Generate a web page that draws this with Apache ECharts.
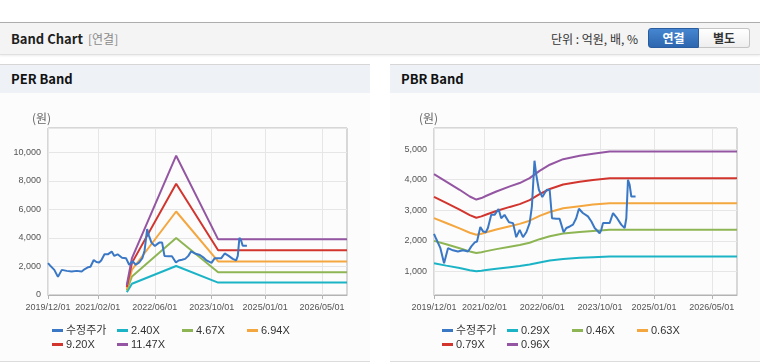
<!DOCTYPE html>
<html><head><meta charset="utf-8">
<script src="https://cdn.jsdelivr.net/npm/echarts@6/dist/echarts.min.js"></script>
<style>
html,body{margin:0;padding:0;background:#fff;}
body{width:760px;height:364px;position:relative;overflow:hidden;font-family:"Noto Sans CJK KR","Noto Sans",sans-serif;}
.topbar{position:absolute;left:0;top:22px;width:760px;height:31px;background:#f4f4f4;border-top:1px solid #adadad;border-bottom:1px solid #e0e0e0;box-shadow:0 1px 2px rgba(0,0,0,0.08);}
.title{position:absolute;left:11px;top:0;line-height:31px;font-size:13px;font-weight:bold;color:#1e1e1e;}
.sub{position:absolute;left:88px;top:0;line-height:31px;font-size:12px;color:#8a8a8a;}
.unit{position:absolute;left:551px;top:0;line-height:31px;font-size:12px;color:#333;}
.btn{position:absolute;top:5px;height:20px;width:51px;line-height:18px;text-align:center;font-size:12px;font-weight:bold;box-sizing:border-box;}
.b1{left:648px;background:linear-gradient(#4686d0,#2c66af);color:#fff;border:1px solid #2a5d9f;border-radius:3px 0 0 3px;}
.b2{left:699px;background:linear-gradient(#fff,#eee);color:#333;border:1px solid #c4c4c4;border-left:none;border-radius:0 3px 3px 0;}
.panel{position:absolute;top:64px;width:370px;height:297px;background:#fcfcfc;border-bottom:1px solid #dcdcdc;}
.phead{height:28px;background:#eef2f7;border-top:1px solid #d6d6d6;line-height:28px;padding-left:11px;font-size:13px;font-weight:bold;color:#111;}
.chart{position:absolute;top:93px;width:370px;height:268px;}
</style></head>
<body>
<div class="topbar">
  <div class="title">Band Chart</div>
  <div class="sub">[연결]</div>
  <div class="unit">단위 : 억원, 배, %</div>
  <div class="btn b1">연결</div>
  <div class="btn b2">별도</div>
</div>
<div class="panel" style="left:0"><div class="phead">PER Band</div></div>
<div class="panel" style="left:390px"><div class="phead">PBR Band</div></div>
<div id="per" class="chart" style="left:0"></div>
<div id="pbr" class="chart" style="left:390px"></div>
<script>
const tickLabels = ['2019/12/01','2021/02/01','2022/06/01','2023/10/01','2025/01/01','2026/05/01'];

const priceDates = ['2019-12-01','2019-12-20','2020-01-24','2020-02-24','2020-03-28','2020-05-09','2020-06-20','2020-08-02','2020-09-14','2020-10-11','2020-11-09','2020-11-28','2020-12-26','2021-01-18','2021-02-10','2021-02-28','2021-03-28','2021-04-25','2021-05-29','2021-06-20','2021-07-18','2021-08-25','2021-09-28','2021-10-25','2021-11-23','2021-12-21','2022-01-19','2022-02-15','2022-03-06','2022-03-28','2022-04-12','2022-05-04','2022-06-02','2022-06-21','2022-07-10','2022-08-03','2022-08-23','2022-09-28','2022-10-26','2022-11-29','2022-12-22','2023-01-20','2023-02-16','2023-03-15','2023-04-07','2023-05-10','2023-06-22','2023-07-20','2023-08-18','2023-09-29','2023-10-13','2023-10-27','2023-12-22','2024-01-20','2024-02-23','2024-03-29','2024-04-27','2024-05-11','2024-05-25','2024-06-08','2024-06-22','2024-07-28'];
const prices = [2230,2060,1760,1270,1760,1690,1650,1690,1650,1820,1950,1980,2450,2310,2280,2420,2850,2850,3040,2740,2850,2610,2580,2120,2360,2120,2290,2580,3120,4620,4160,3670,3430,3560,3670,3670,2740,2720,2720,2280,2420,2470,2530,2740,3050,2910,2800,2640,2420,2250,2360,2580,2580,2910,2740,2530,2420,2740,4000,3830,3450,3450];

const perBandDates = ['2021-10-05','2021-11-18','2022-12-01','2023-11-25','2026-12-01'];
const per240 = [200, 790, 2030, 870, 870];
const per467 = [320, 1300, 3990, 1600, 1600];
const per694 = [430, 1770, 5850, 2350, 2350];
const per920 = [560, 2250, 7790, 3140, 3140];
const per1147 = [700, 2590, 9760, 3900, 3900];

const pbrBandDates = ['2019-12-01','2020-03-13','2020-07-04','2020-09-28','2020-11-22','2021-01-04','2021-02-15','2021-05-10','2021-09-01','2021-11-23','2022-02-15','2022-05-10','2022-08-04','2022-11-25','2023-04-13','2023-08-04','2023-12-22','2026-12-01'];
const pbr096 = [4180,3940,3670,3450,3350,3400,3475,3615,3780,3890,4050,4290,4490,4670,4780,4850,4920,4920];
const pbr079 = [3440,3240,3020,2840,2755,2800,2860,2975,3110,3200,3330,3530,3695,3845,3935,3990,4050,4050];
const pbr063 = [2745,2585,2410,2265,2200,2230,2280,2370,2480,2555,2660,2815,2945,3065,3135,3185,3230,3230];
const pbr046 = [2000,1890,1760,1655,1605,1630,1665,1730,1810,1865,1940,2055,2150,2240,2290,2325,2360,2360];
const pbr029 = [1265,1190,1110,1040,1010,1025,1050,1090,1140,1175,1225,1295,1355,1410,1445,1465,1485,1485];

const perNames = ['수정주가','2.40X','4.67X','6.94X','9.20X','11.47X'];
const pbrNames = ['수정주가','0.29X','0.46X','0.63X','0.79X','0.96X'];
const colors = ['#3a77c5','#1bb3c6','#8eb553','#f4a63f','#d2352e','#9456a2'];

// monthly category axis (for ticks/labels only)
const months = [];
for (let y = 2019, m = 12; y < 2027; ) {
  months.push(y + '/' + String(m).padStart(2, '0') + '/01');
  m++; if (m > 12) { m = 1; y++; }
}

const zip = (d, v) => d.map((x, i) => [x, v[i]]);
const FONT = "'Liberation Sans','Noto Sans CJK KR',sans-serif";
const showTick = (i, v) => tickLabels.indexOf(v) >= 0;

function build(id, gridLeft, gridWidth, yMin, yMax, yInterval, names, seriesData, unitLeft) {
  const chart = echarts.init(document.getElementById(id), null, {renderer: 'canvas'});
  const legendPos = [[52, 232], [117, 232], [182, 232], [247, 232], [52, 246], [117, 246]];
  const legends = names.map((n, i) => ({
    data: [n], left: legendPos[i][0], top: legendPos[i][1], padding: 0,
    icon: 'rect', itemWidth: 11, itemHeight: 3, itemGap: 0, selectedMode: false,
    textStyle: {fontSize: 11, color: '#333', fontFamily: FONT, padding: [0, 0, 0, -2]}
  }));
  const series = seriesData.map((s, i) => ({
    name: names[i], type: 'line', xAxisIndex: 1, data: s,
    showSymbol: false, symbol: 'none', z: i === 0 ? 10 : 3,
    lineStyle: {width: 2, color: colors[i]}, itemStyle: {color: colors[i]}
  }));
  const yAxis = {
    type: 'value', min: yMin, max: yMax,
    axisLine: {show: false}, axisTick: {show: false},
    axisLabel: {fontSize: 9, color: '#555', fontFamily: FONT, margin: 7,
      formatter: v => (v % 1000 === 0 ? v.toLocaleString('en-US') : '')},
    splitLine: {lineStyle: {color: '#e6e6e6', width: 1}}
  };
  if (yInterval) yAxis.interval = yInterval;
  chart.setOption({
    animation: false,
    grid: {left: gridLeft, width: gridWidth, top: 35, height: 167, show: true,
      borderColor: '#b3b3b3', borderWidth: 1, backgroundColor: 'transparent'},
    legend: legends,
    graphic: [{type: 'text', left: unitLeft, top: 19,
      style: {text: '(원)', fontSize: 12, fill: '#666', fontFamily: "'Noto Sans CJK KR',sans-serif"}}],
    xAxis: [
      {type: 'category', data: months, boundaryGap: false, position: 'bottom',
        axisLine: {lineStyle: {color: '#b3b3b3'}},
        axisTick: {interval: showTick, length: 4, lineStyle: {color: '#b3b3b3'}},
        axisLabel: {interval: showTick, fontSize: 9, color: '#555', fontFamily: FONT, margin: 8,
          formatter: v => v},
        splitLine: {show: true, interval: showTick, lineStyle: {color: '#e6e6e6'}}},
      {type: 'time', min: '2019-12-01', max: '2026-12-01', show: false}
    ],
    yAxis: yAxis,
    series: series
  });
}

build('per', 48, 299, 0, 11700, 2000, perNames, [
  zip(priceDates, prices),
  zip(perBandDates, per240), zip(perBandDates, per467), zip(perBandDates, per694),
  zip(perBandDates, per920), zip(perBandDates, per1147)
], 32);

build('pbr', 44, 303, 230, 5690, null, pbrNames, [
  zip(priceDates, prices),
  zip(pbrBandDates, pbr029), zip(pbrBandDates, pbr046), zip(pbrBandDates, pbr063),
  zip(pbrBandDates, pbr079), zip(pbrBandDates, pbr096)
], 29);
</script>
</body></html>
